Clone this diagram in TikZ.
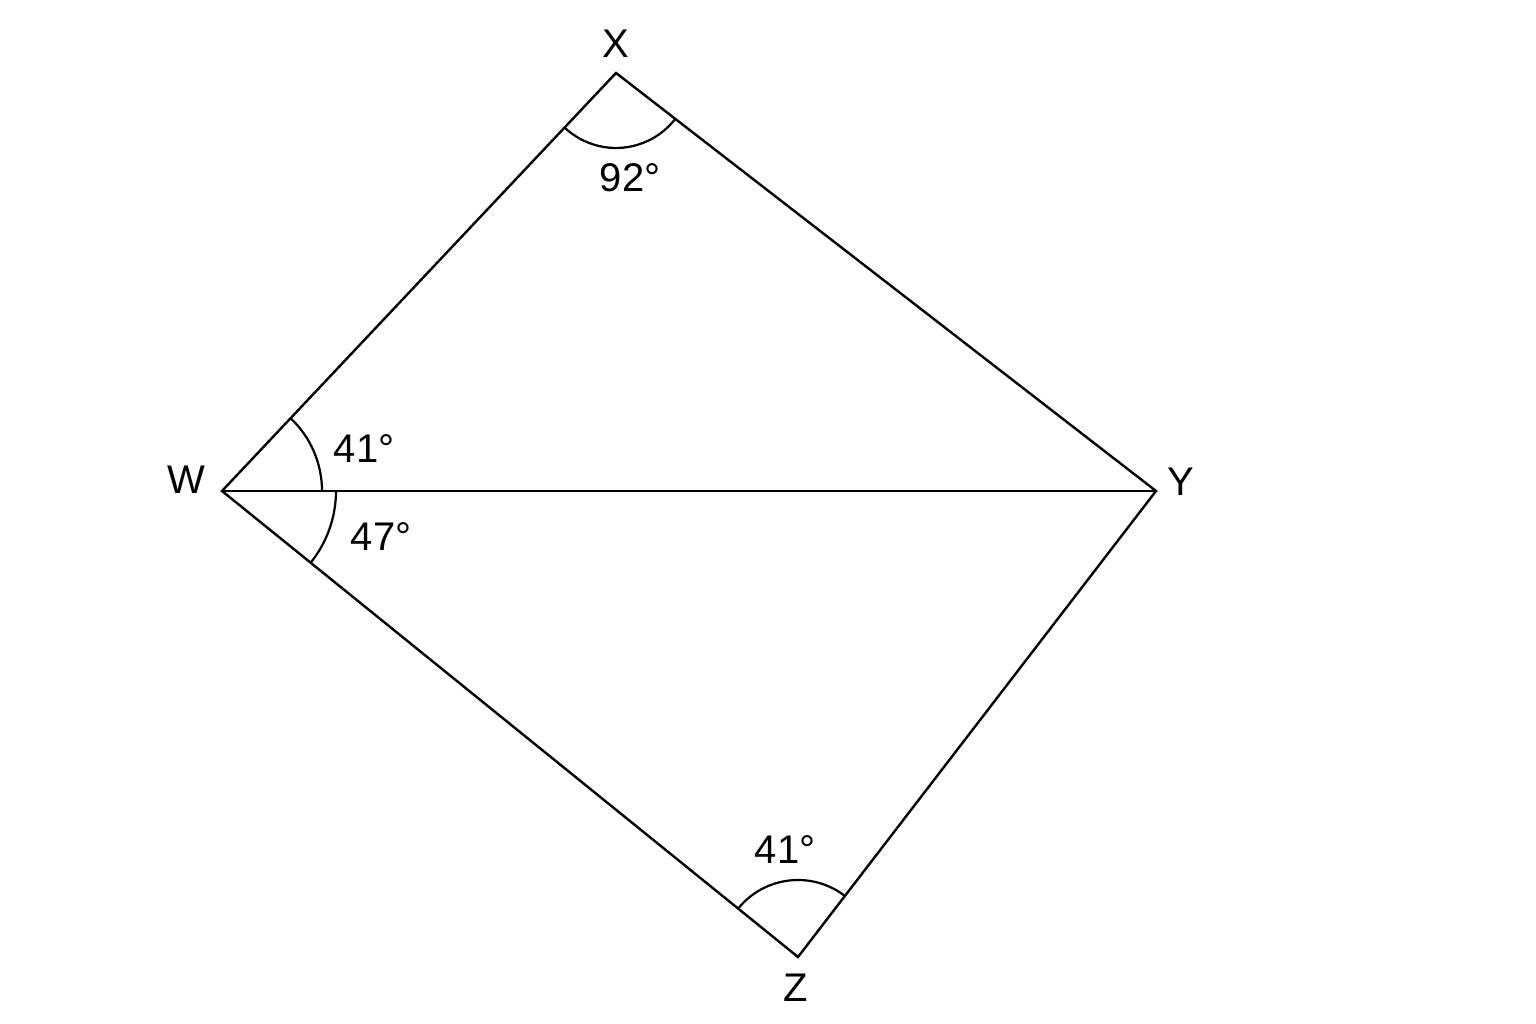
\documentclass[tikz,border=0pt]{standalone}
\usepackage{fontspec}
\setmainfont{Liberation Sans}
\usetikzlibrary{calc}
\begin{document}
\begin{tikzpicture}[x=1pt,y=1pt,
  edge/.style={line width=2.4pt,line join=miter},
  anglearc/.style={line width=2.2pt},
  lbl/.style={font=\fontsize{40}{46}\selectfont,inner sep=0pt}]
\useasboundingbox[fill=white] (0,0) rectangle (1536,1024);
\coordinate (X) at (616,951);
\coordinate (W) at (222,533);
\coordinate (Y) at (1156,533);
\coordinate (Z) at (798,67);
\draw[edge] (W) -- (X) -- (Y) -- (Z) -- cycle;
\draw[edge] (W) -- (Y);
\draw[anglearc] ($(X)+(226.7:75)$) arc[start angle=226.7,end angle=322.3,radius=75];
\draw[anglearc] ($(W)+(0:100)$) arc[start angle=0,end angle=46.7,radius=100];
\draw[anglearc] ($(W)+(-39:114)$) arc[start angle=-39,end angle=0,radius=114];
\draw[anglearc] ($(Z)+(52.5:77)$) arc[start angle=52.5,end angle=141,radius=77];
\node[lbl] (lX) at (616,980) {X};
\node[lbl] (lW) at (186,544) {W};
\node[lbl] (lY) at (1181,542) {Y};
\node[lbl] (lZ) at (796,36) {Z};
\node[lbl] (a1) at (630,846) {92°};
\node[lbl] (a2) at (364,575) {41°};
\node[lbl] (a3) at (381,487) {47°};
\node[lbl] (a4) at (785,174) {41°};
\end{tikzpicture}
\end{document}
